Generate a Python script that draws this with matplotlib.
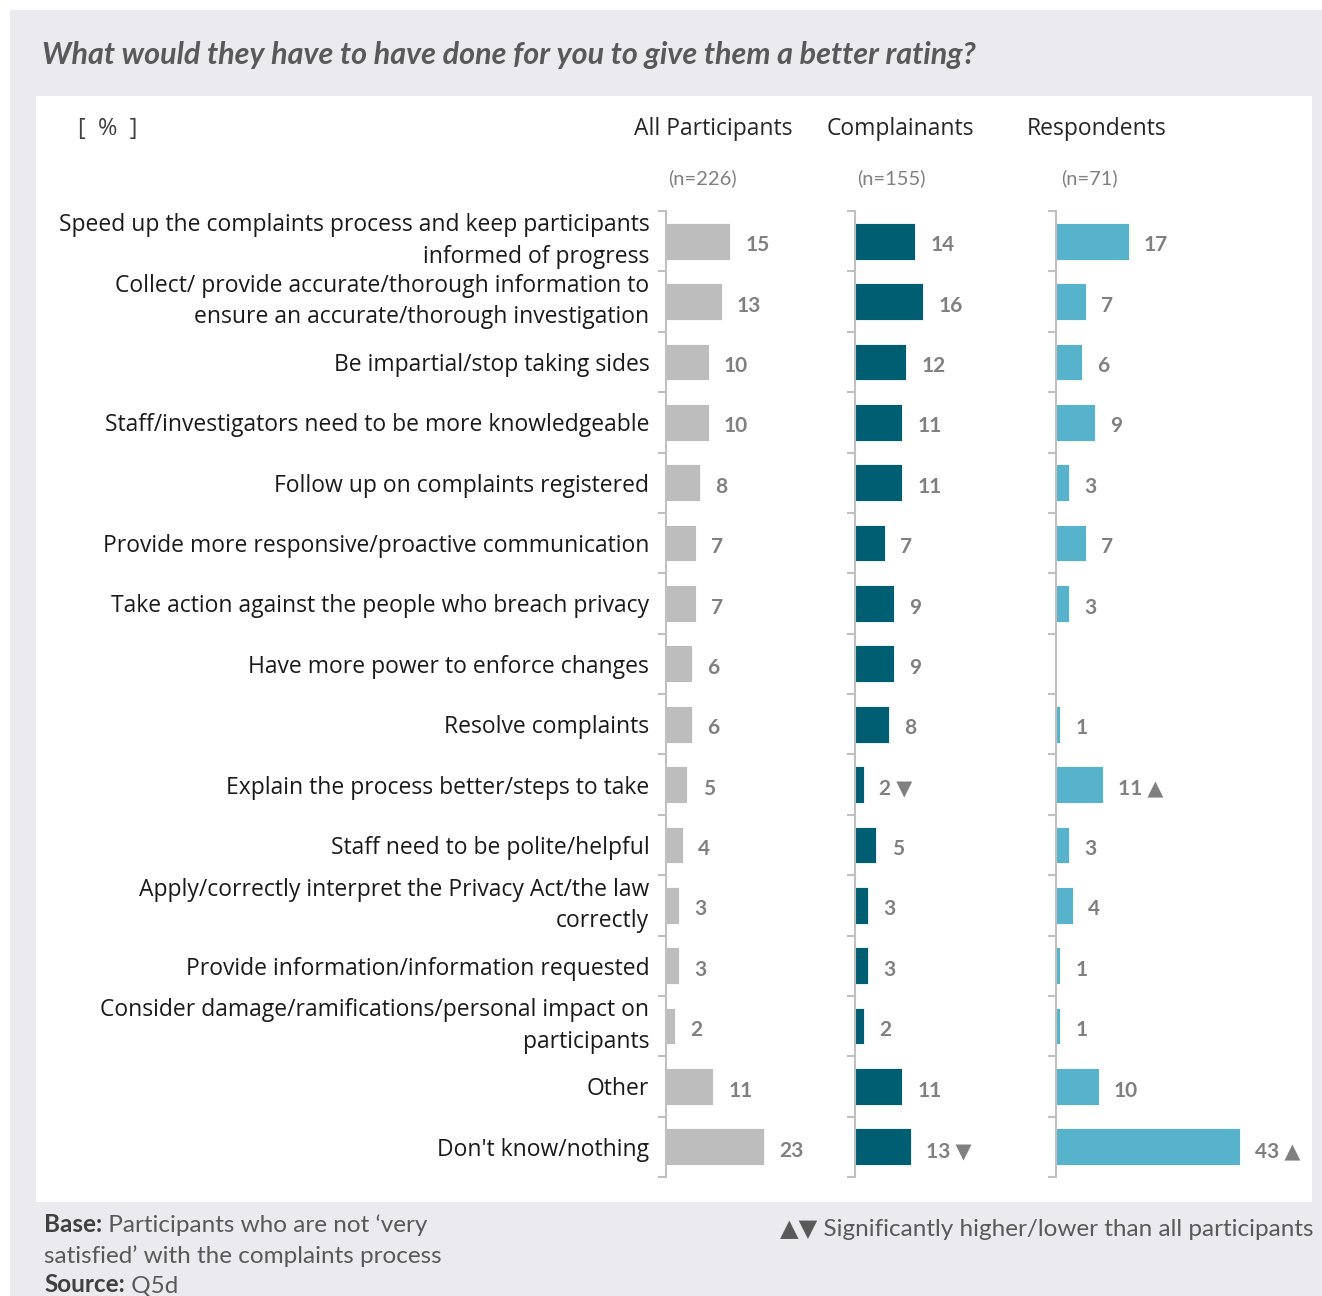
import matplotlib.pyplot as plt
from matplotlib.patches import Rectangle
from matplotlib.text import Annotation

categories = [
    "Speed up the complaints process and keep participants\ninformed of progress",
    "Collect/ provide accurate/thorough information to\nensure an accurate/thorough investigation",
    "Be impartial/stop taking sides",
    "Staff/investigators need to be more knowledgeable",
    "Follow up on complaints registered",
    "Provide more responsive/proactive communication",
    "Take action against the people who breach privacy",
    "Have more power to enforce changes",
    "Resolve complaints",
    "Explain the process better/steps to take",
    "Staff need to be polite/helpful",
    "Apply/correctly interpret the Privacy Act/the law\ncorrectly",
    "Provide information/information requested",
    "Consider damage/ramifications/personal impact on\nparticipants",
    "Other",
    "Don't know/nothing",
]
all_participants = [15, 13, 10, 10, 8, 7, 7, 6, 6, 5, 4, 3, 3, 2, 11, 23]
complainants = [14, 16, 12, 11, 11, 7, 9, 9, 8, 2, 5, 3, 3, 2, 11, 13]
respondents = [17, 7, 6, 9, 3, 7, 3, None, 1, 11, 3, 4, 1, 1, 10, 43]
# significance markers: +1 higher, -1 lower
sig_complainants = [0, 0, 0, 0, 0, 0, 0, 0, 0, -1, 0, 0, 0, 0, 0, -1]
sig_respondents = [0, 0, 0, 0, 0, 0, 0, 0, 0, 1, 0, 0, 0, 0, 0, 1]
groups = ["All Participants", "Complainants", "Respondents"]
bases = ["(n=226)", "(n=155)", "(n=71)"]

W, H = 1322, 1296
fig = plt.figure(figsize=(W / 100, H / 100), dpi=100)
fig.patch.set_facecolor("white")

# background panels
fig.add_artist(Rectangle((10 / W, 0), 1 - 10 / W, 1 - 10 / H, transform=fig.transFigure,
                         facecolor="#ebebef", edgecolor="none", zorder=-10))
fig.add_artist(Rectangle((36 / W, 1 - 1202 / H), (1312 - 36) / W, (1202 - 96) / H,
                         transform=fig.transFigure, facecolor="white", edgecolor="none", zorder=-9))

title_font = ["Lato", "DejaVu Sans"]
body_font = ["Open Sans", "DejaVu Sans"]

fig.text(42 / W, 1 - 55 / H, "What would they have to have done for you to give them a better rating?",
         fontsize=22, fontweight="bold", style="italic", color="#595959",
         family=title_font, va="center", ha="left")

fig.text(108 / W, 1 - 129 / H, "[  %  ]", fontsize=17, color="#404040", family=body_font,
         va="center", ha="center")

px = 4.28  # pixels per percentage point
top, bottom = 211, 1177
ax_bottom = 1 - bottom / H
ax_height = (bottom - top) / H
panels = [
    (666, 180, all_participants, "#bdbdbd", None),
    (855, 180, complainants, "#005e72", sig_complainants),
    (1056, 250, respondents, "#57b2cc", sig_respondents),
]
header_x = [713, 900, 1097]
base_x = [702, 891, 1089]

n = len(categories)
for k, (left, width, values, color, sig) in enumerate(panels):
    ax = fig.add_axes([left / W, ax_bottom, width / W, ax_height])
    ax.set_xlim(0, width / px)
    ax.set_ylim(n - 0.5, -0.5)
    ys = list(range(n))
    vals = [v if v is not None else 0 for v in values]
    ax.barh(ys, vals, height=0.61, color=color, edgecolor="white", linewidth=0.6)
    for i, v in enumerate(values):
        if v is None:
            continue
        label = str(v)
        if sig is not None and sig[i] == 1:
            label += " ▲"
        elif sig is not None and sig[i] == -1:
            label += " ▼"
        ax.annotate(label, (v, i), xytext=(11, -3), textcoords="offset points",
                    ha="left", va="center", fontsize=15, fontweight="bold",
                    color="#808080", family=title_font)
    for s in ["top", "right", "bottom"]:
        ax.spines[s].set_visible(False)
    ax.spines["left"].set_color("#c0c0c0")
    ax.spines["left"].set_linewidth(1.5)
    ax.set_xticks([])
    ax.set_yticks([i - 0.5 for i in range(n + 1)], minor=True)
    ax.tick_params(axis="y", which="minor", length=6, width=1.5, color="#c0c0c0")
    if k == 0:
        ax.set_yticks(ys)
        ax.set_yticklabels(categories, fontsize=16.5, color="#1a1a1a", family=body_font,
                           linespacing=1.42)
        ax.tick_params(axis="y", which="major", length=0, pad=12)
        # two-line labels sit a little high in the original
        for lbl in ax.get_yticklabels():
            if "\n" in lbl.get_text():
                lbl.set_va("center")
    else:
        ax.set_yticks([])
    ax.patch.set_alpha(0)
    fig.text(header_x[k] / W, 1 - 129 / H, groups[k], fontsize=16.5, color="#262626",
             family=body_font, ha="center", va="center")
    fig.text(base_x[k] / W, 1 - 178 / H, bases[k], fontsize=14.5, color="#808080",
             family=title_font, ha="center", va="center")

# footer
footer_size = 17.5
base_lbl = fig.text(44 / W, 1 - 1224 / H, "Base:", fontsize=footer_size, color="#404040",
                    fontweight="bold", family=title_font, va="center")
fig.add_artist(Annotation(" Participants who are not \u2018very", xy=(1, 0), xycoords=base_lbl,
                          va="bottom", ha="left", fontsize=footer_size, color="#595959",
                          family=title_font))
fig.text(44 / W, 1 - 1256 / H, "satisfied\u2019 with the complaints process", fontsize=footer_size,
         color="#595959", family=title_font, va="center")
src_lbl = fig.text(44 / W, 1 - 1285 / H, "Source:", fontsize=footer_size, color="#404040",
                   fontweight="bold", family=title_font, va="center")
fig.add_artist(Annotation(" Q5d", xy=(1, 0), xycoords=src_lbl, va="bottom", ha="left",
                          fontsize=footer_size, color="#595959", family=title_font))
fig.text(1314 / W, 1 - 1230 / H, "▲▼ Significantly higher/lower than all participants",
         fontsize=footer_size, color="#595959", family=title_font, ha="right", va="center")

fig.savefig("out.png", dpi=100)
